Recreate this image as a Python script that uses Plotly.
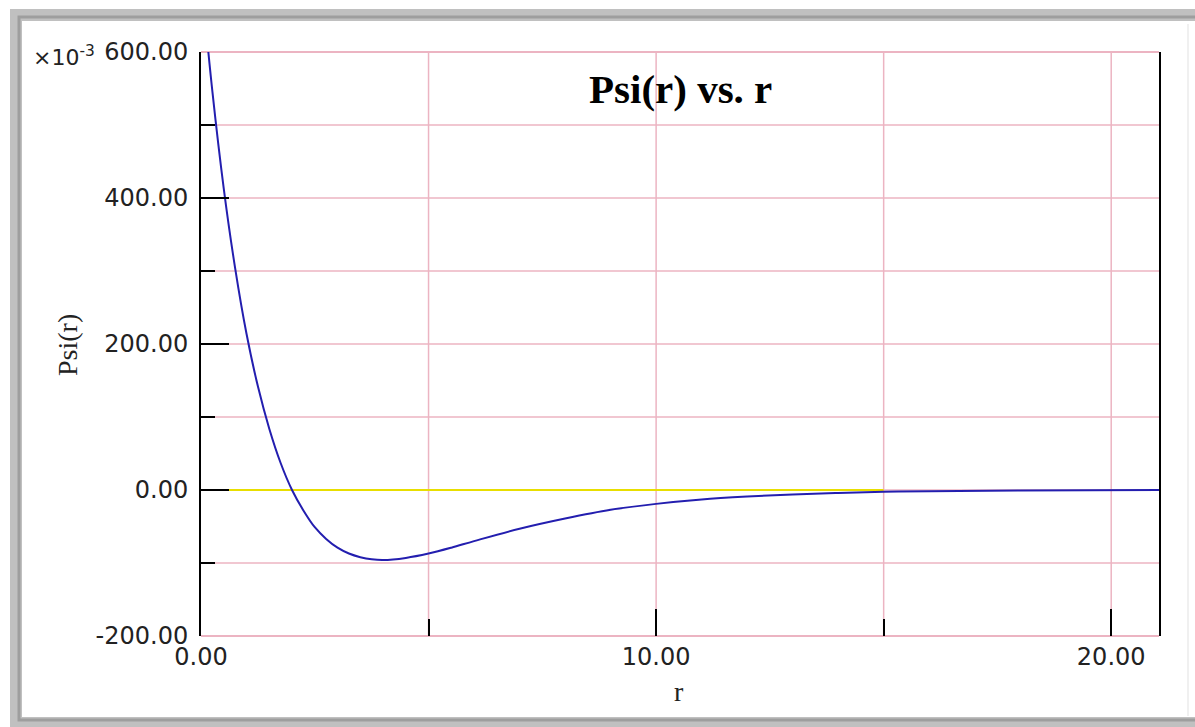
import plotly.graph_objects as go

# Data (Psi values in units of 1e-3)
r_vals = [0.0, 0.25, 0.5, 0.75, 1.0, 1.25, 1.5, 1.75, 2.0, 2.25, 2.5, 2.75, 3.0, 3.25,
          3.5, 3.75, 4.0, 4.5, 5.0, 5.5, 6.0, 7.0, 8.0, 9.0, 10.0, 11.0, 12.0, 13.0,
          14.0, 15.0, 16.0, 18.0, 21.05]
psi_vals = [705, 546, 413, 304, 214, 142, 84, 37, 0, -28, -51, -67, -79, -87,
            -92, -95, -96, -93, -87, -79, -70, -53, -39, -27, -19, -13, -9, -6,
            -4, -2.5, -1.6, -0.6, -0.1]
zero_x = [0.0, 15.0]
zero_y = [0, 0]

x_tickvals = [0, 10, 20]
x_ticktext = ["0.00", "10.00", "20.00"]
y_tickvals = [-200, 0, 200, 400, 600]
y_ticktext = ["-200.00", "0.00", "200.00", "400.00", "600.00"]

title_text = "Psi(r) vs. r"
x_title = "r"
y_title = "Psi(r)"
scale_text = "×10<sup>-3</sup>"

W, H = 1195, 727
L, R, T, B = 201, 1159, 52, 636
X_MAX = 21.05


def px(x):
    return (x - L) / (R - L)


def py(y):
    return (B - y) / (B - T)


fig = go.Figure()
fig.add_trace(go.Scatter(x=zero_x, y=zero_y, mode="lines",
                         line=dict(color="rgb(232,222,0)", width=2),
                         hoverinfo="skip", showlegend=False))
fig.add_trace(go.Scatter(x=r_vals, y=psi_vals, mode="lines",
                         line=dict(color="rgb(35,30,175)", width=2, shape="spline", smoothing=1.0),
                         showlegend=False))

grid_col = "rgb(236,180,194)"
tick_font = dict(family="DejaVu Sans", size=24, color="#222")

fig.update_xaxes(range=[0, X_MAX], tickvals=x_tickvals, ticktext=x_ticktext,
                 showgrid=False,
                 ticks="inside", ticklen=27, tickwidth=2, tickcolor="black",
                 minor=dict(dtick=5, tick0=0, ticks="inside", ticklen=17, tickwidth=2,
                            tickcolor="black", showgrid=False),
                 showline=False, zeroline=False, tickfont=tick_font,
                 ticklabelstandoff=4, fixedrange=True)
fig.update_yaxes(range=[-200, 600], tickvals=y_tickvals, ticktext=y_ticktext,
                 showgrid=False,
                 ticks="inside", ticklen=28, tickwidth=2, tickcolor="black",
                 minor=dict(dtick=100, tick0=0, ticks="inside", ticklen=14, tickwidth=2,
                            tickcolor="black", showgrid=False),
                 showline=True, linecolor="black", linewidth=2, mirror=True,
                 zeroline=False, tickfont=tick_font, ticklabelstandoff=6, fixedrange=True)

shapes = []
# pink grid lines (every 100 on y, every 5 on x)
for gy in range(-100, 501, 100):
    shapes.append(dict(type="line", xref="paper", yref="y", x0=0, x1=1, y0=gy, y1=gy,
                       line=dict(color=grid_col, width=1.5), layer="below"))
for gx in range(5, 21, 5):
    shapes.append(dict(type="line", xref="x", yref="paper", x0=gx, x1=gx, y0=0, y1=1,
                       line=dict(color=grid_col, width=1.5), layer="below"))
# top and bottom pink borders
for edge in (0, 1):
    shapes.append(dict(type="line", xref="paper", yref="paper", x0=0, x1=1, y0=edge, y1=edge,
                       line=dict(color=grid_col, width=2), layer="below"))
# outer grey panel frame
shapes += [
    dict(type="rect", xref="paper", yref="paper",
         x0=px(16), x1=px(1215), y0=py(15), y1=py(723),
         line=dict(color="rgb(192,192,192)", width=12), layer="below"),
    dict(type="rect", xref="paper", yref="paper",
         x0=px(19), x1=px(1215), y0=py(17), y1=py(720),
         line=dict(color="rgb(158,158,158)", width=3), layer="below"),
    dict(type="line", xref="paper", yref="paper",
         x0=px(1188), x1=px(1188), y0=py(24), y1=py(716),
         line=dict(color="rgb(225,225,225)", width=1), layer="below"),
]

annotations = [
    dict(text="<b>" + title_text + "</b>", xref="paper", yref="paper", x=px(680), y=py(89),
         xanchor="center", yanchor="middle", showarrow=False,
         font=dict(family="Liberation Serif", size=41, color="black")),
    dict(text=x_title, xref="paper", yref="paper", x=px(679), y=py(691),
         xanchor="center", yanchor="middle", showarrow=False,
         font=dict(family="Liberation Serif", size=28, color="#222")),
    dict(text=y_title, xref="paper", yref="paper", x=px(67), y=py(345),
         xanchor="center", yanchor="middle", showarrow=False, textangle=-90,
         font=dict(family="Liberation Serif", size=28, color="#222")),
    dict(text=scale_text, xref="paper", yref="paper", x=px(31), y=py(56),
         xanchor="left", yanchor="middle", showarrow=False,
         font=dict(family="DejaVu Sans", size=22, color="#222")),
]

fig.update_layout(width=W, height=H, autosize=False,
                  margin=dict(l=L, r=W - R, t=T, b=H - B, pad=0),
                  paper_bgcolor="white", plot_bgcolor="white",
                  shapes=shapes, annotations=annotations, showlegend=False)

fig.write_html("out.html")
